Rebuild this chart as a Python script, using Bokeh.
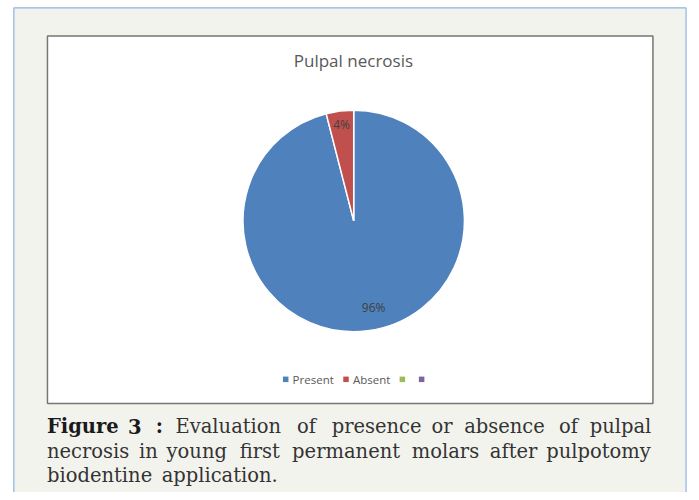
import math
from bokeh.plotting import figure
from bokeh.models import Range1d, ColumnDataSource
from bokeh.core.properties import value
from bokeh.embed import file_html
from bokeh.resources import INLINE

# ---- data ----
title_text = "Pulpal necrosis"
categories = ["Present", "Absent", "", ""]
values = [96, 4, 0, 0]
colors = ["#4f81bd", "#c0504d", "#9bbb59", "#8064a2"]

caption_lines = [
    ["Figure", "3", ":", "Evaluation", "of", "presence", "or", "absence", "of", "pulpal"],
    ["necrosis", "in", "young", "first", "permanent", "molars", "after", "pulpotomy"],
    ["biodentine", "application."],
]
caption_bold = [3, 0, 0]  # number of bold words at the start of each line
caption_word_x = [
    [47, 129, 157, 177, 300, 335, 436, 469, 565, 596],
    [47, 140, 168, 242, 295, 416, 495, 552],
    [47, 163],
]
caption_mid_y = [433, 458, 483]

# ---- layout (reference pixel coordinates, scaled into the figure) ----
W, H = 691, 492
REF_W, REF_H = 699, 500
def sy(v):
    return REF_H - v

p = figure(width=W, height=H, output_backend="svg", toolbar_location=None,
           x_range=Range1d(0, REF_W), y_range=Range1d(0, REF_H),
           min_border=0, min_border_left=0, min_border_right=0,
           min_border_top=0, min_border_bottom=0)
p.axis.visible = False
p.grid.visible = False
p.outline_line_color = None
p.background_fill_color = "white"
p.border_fill_color = "white"

# outer panel
p.quad(left=[13.5], right=[693.5], top=[sy(7.5)], bottom=[sy(520)],
       fill_color="#f3f3ee", line_color="#8db3e2", line_width=1.2)
# inner chart area
p.quad(left=[47.5], right=[660], top=[sy(36)], bottom=[sy(409.5)],
       fill_color="white", line_color="#767676", line_width=1.5)

# title
p.text(x=[357], y=[sy(61)], text=[title_text], text_font=value("Open Sans"),
       text_font_size="17px", text_color="#595959", text_align="center",
       text_baseline="middle")

# pie
cx, cy, r = 357.3, sy(224), 112
total = sum(values)
starts, ends, cols, labs = [], [], [], []
a = math.pi / 2
for cat, v, c in zip(categories, values, colors):
    frac = v / total
    if v > 0:
        starts.append(a)
        ends.append(a - frac * 2 * math.pi)
        cols.append(c)
        labs.append(f"{round(frac * 100)}%")
    a -= frac * 2 * math.pi
src = ColumnDataSource(dict(start=starts, end=ends, color=cols))
p.wedge(x=cx, y=cy, radius=r, start_angle="start", end_angle="end",
        direction="clock", fill_color="color", line_color="white",
        line_width=1.5, source=src)

# data labels
label_pos = [(377.5, 312), (345, 126)]
for (lx, ly), t in zip(label_pos, labs):
    p.text(x=[lx], y=[sy(ly)], text=[t], text_font=value("Open Sans"),
           text_font_size="12px", text_color="#404040", text_align="center",
           text_baseline="middle")

# legend
marker_x = [288.5, 349.5, 406.5, 426]
for mx, cat, c in zip(marker_x, categories, colors):
    p.scatter(x=[mx], y=[sy(385)], marker="square", size=5.5,
              fill_color=c, line_color=None)
    if cat:
        p.text(x=[mx + 7], y=[sy(385)], text=[cat], text_font=value("Open Sans"),
               text_font_size="11.5px", text_color="#595959", text_align="left",
               text_baseline="middle")

# caption
for words, xs, my, nb in zip(caption_lines, caption_word_x, caption_mid_y, caption_bold):
    for i, (w, x) in enumerate(zip(words, xs)):
        bold = i < nb
        p.text(x=[x], y=[sy(my)], text=[w], text_font=value("DejaVu Serif"),
               text_font_size="19.5px",
               text_font_style="bold" if bold else "normal",
               text_color="#1a1a1a" if bold else "#333333",
               text_align="left", text_baseline="middle")

open("out.html", "w").write(file_html(p, INLINE))
